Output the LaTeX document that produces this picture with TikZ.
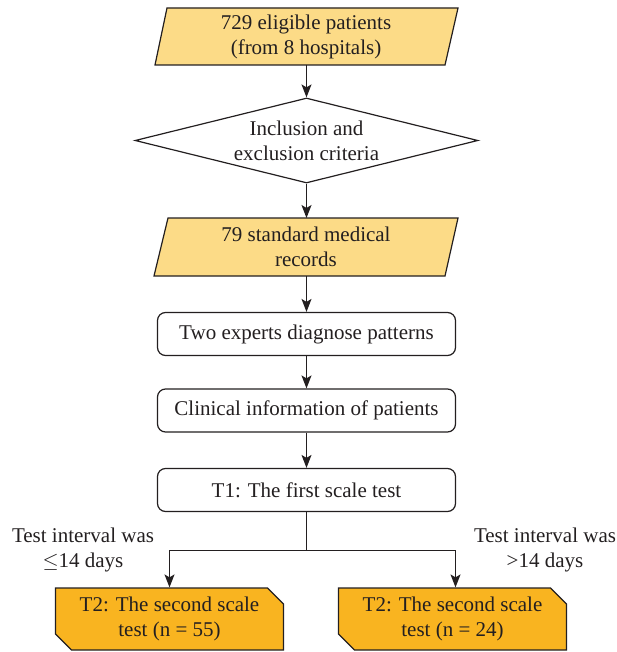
\documentclass[tikz,border=0pt]{standalone}
\usepackage{fontspec}
\setmainfont{Liberation Serif}
\usetikzlibrary{shapes.geometric,shapes.misc,arrows.meta}
\definecolor{lightyel}{RGB}{252,219,135}
\definecolor{orangebox}{RGB}{249,180,32}
\definecolor{txt}{RGB}{35,31,32}
\begin{document}
\begin{tikzpicture}[x=1pt,y=-1pt,
  every node/.style={font=\fontsize{21}{25}\selectfont, text=txt, align=center},
  shapeline/.style={draw=txt, line width=1.2pt},
  arr/.style={draw=txt, line width=1.2pt, -{Stealth[length=13pt,width=10pt,inset=3pt]}},
  roundbox/.style={shapeline, rounded corners=8pt, minimum width=298pt, minimum height=43pt, inner sep=0pt, fill=white},
  chambox/.style={shapeline, fill=orangebox, chamfered rectangle, chamfered rectangle corners={north east,south west}, chamfered rectangle xsep=8pt, chamfered rectangle ysep=8pt, minimum width=228pt, minimum height=62pt, inner sep=0pt},
  decision/.style={shapeline, diamond, aspect=4, inner sep=0pt, minimum width=343pt, minimum height=85pt},
  plain/.style={inner sep=0pt}
]
\useasboundingbox (0,0) rectangle (617,652);
% parallelogram 1
\filldraw[shapeline, fill=lightyel] (167,8) -- (458,8) -- (445,65) -- (155,65) -- cycle;
\node[plain] (p1) at (306,37) {729 eligible patients\\(from 8 hospitals)};
\coordinate (p1b) at (306.5,65);
% diamond
\node[decision] (d) at (306.5,140.5) {Inclusion and\\exclusion criteria};
% parallelogram 2
\filldraw[shapeline, fill=lightyel] (168,218) -- (458,218) -- (445,276) -- (154,276) -- cycle;
\node[plain] (p2) at (306,247) {79 standard medical\\records};
\coordinate (p2t) at (306.5,218);
\coordinate (p2b) at (306.5,276);
% rounded boxes
\node[roundbox] (b1) at (306.5,334) {Two experts diagnose patterns};
\node[roundbox] (b2) at (306.5,410.5) {Clinical information of patients};
\node[roundbox] (b3) at (306.5,490) {T1: The first scale test};
% bottom boxes
\node[chambox] (l) at (169.5,619) {T2: The second scale\\test (n = 55)};
\node[chambox] (r) at (452.5,619) {T2: The second scale\\test (n = 24)};
% labels
\node[plain] (lt) at (83,550) {Test interval was\\$\leq$14 days};
\node[plain] (rt) at (545,550) {Test interval was\\>14 days};
% connectors
\draw[arr] (p1b) -- (d.north);
\draw[arr] (d.south) -- (p2t);
\draw[arr] (p2b) -- (b1.north);
\draw[arr] (b1.south) -- (b2.north);
\draw[arr] (b2.south) -- (b3.north);
\coordinate (split) at (306.5,550.5);
\coordinate (rtop) at ([xshift=3pt]r.north);
\draw[shapeline] (b3.south) -- (split);
\draw[arr] (split) -| (l.north);
\draw[arr] (split) -| (rtop);
\end{tikzpicture}
\end{document}
